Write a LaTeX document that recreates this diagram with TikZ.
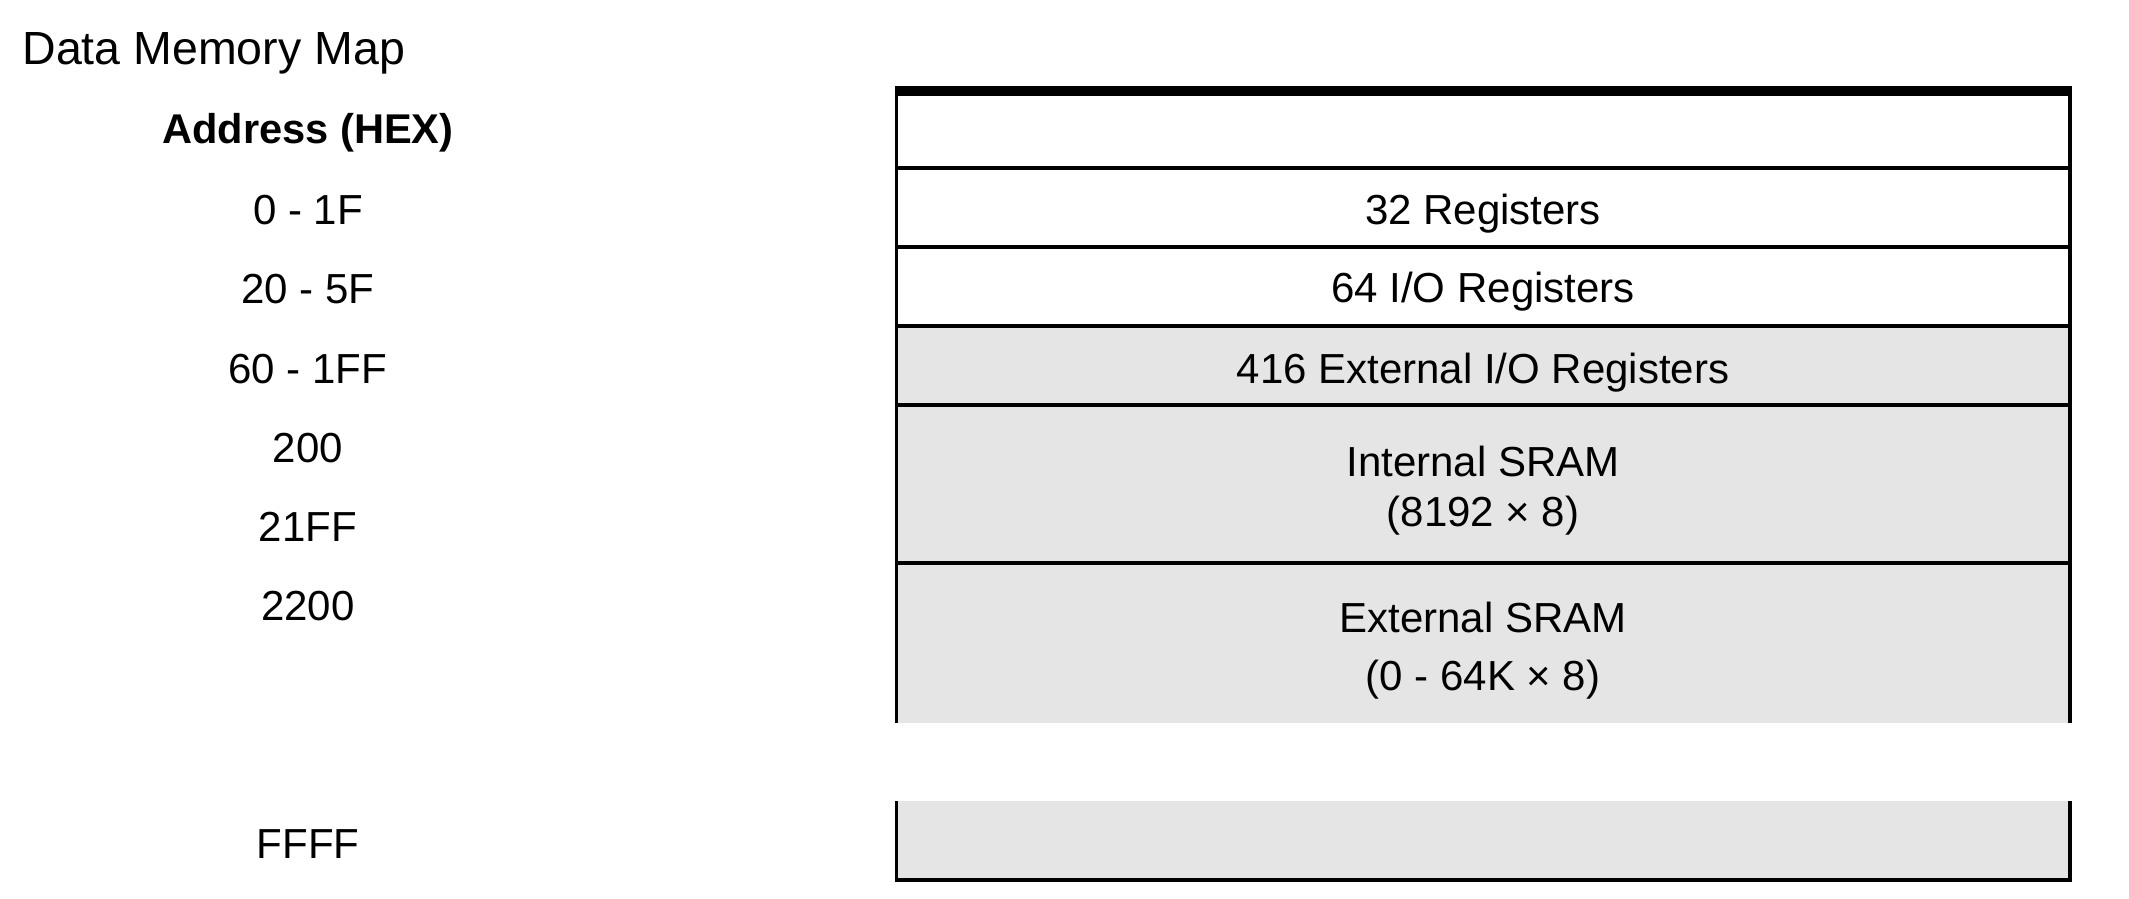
\documentclass[tikz,border=0pt]{standalone}
\usepackage{fontspec}
\setmainfont{Liberation Sans}
\definecolor{memgray}{RGB}{229,229,229}
\begin{document}
\begin{tikzpicture}[x=1pt,y=-1pt,line width=3pt,
  lbl/.style={font=\fontsize{42}{50}\selectfont, anchor=base, inner sep=0pt},
  hdr/.style={font=\fontsize{41.6}{50}\selectfont\bfseries, anchor=base, inner sep=0pt},
  ttl/.style={font=\fontsize{46.5}{56}\selectfont, anchor=base west, inner sep=0pt},
  rowline/.style={line width=3.2pt},
  topbar/.style={line width=10pt}]
\useasboundingbox (0,0) rectangle (2129,899);
% fills
\fill[memgray] (896.5,326) rectangle (2070,723);
\fill[memgray] (896.5,801) rectangle (2070,880);
% frame
\draw[rowline] (896.5,91) -- (896.5,723);
\draw[rowline] (2070,91) -- (2070,723);
\draw[rowline] (896.5,801) -- (896.5,880) -- (2070,880) -- (2070,801);
\foreach \yy in {168,247,326,405,563}
  \draw[rowline] (896.5,\yy) -- (2070,\yy);
\draw[topbar] (895,91) -- (2071.5,91);
% title
\node[ttl] (title) at (21,65) {Data Memory Map};
% address column
\node[hdr] (hdr) at (308,143) {Address (HEX)};
\node[lbl] (a0) at (308,224) {0 - 1F};
\node[lbl] (a1) at (308,303) {20 - 5F};
\node[lbl] (a2) at (308,383) {60 - 1FF};
\node[lbl] (a3) at (308,462) {200};
\node[lbl] (a4) at (308,541) {21FF};
\node[lbl] (a5) at (308,620) {2200};
\node[lbl] (a6) at (308,858) {FFFF};
% box texts
\node[lbl] (r1) at (1483,224) {32 Registers};
\node[lbl] (r2) at (1483,302) {64 I/O Registers};
\node[lbl] (r3) at (1483,383) {416 External I/O Registers};
\node[lbl] (r4a) at (1483,476) {Internal SRAM};
\node[lbl] (r4b) at (1483,526) {(8192 × 8)};
\node[lbl] (r5a) at (1483,632) {External SRAM};
\node[lbl] (r5b) at (1483,690) {(0 - 64K × 8)};
\end{tikzpicture}
\end{document}
